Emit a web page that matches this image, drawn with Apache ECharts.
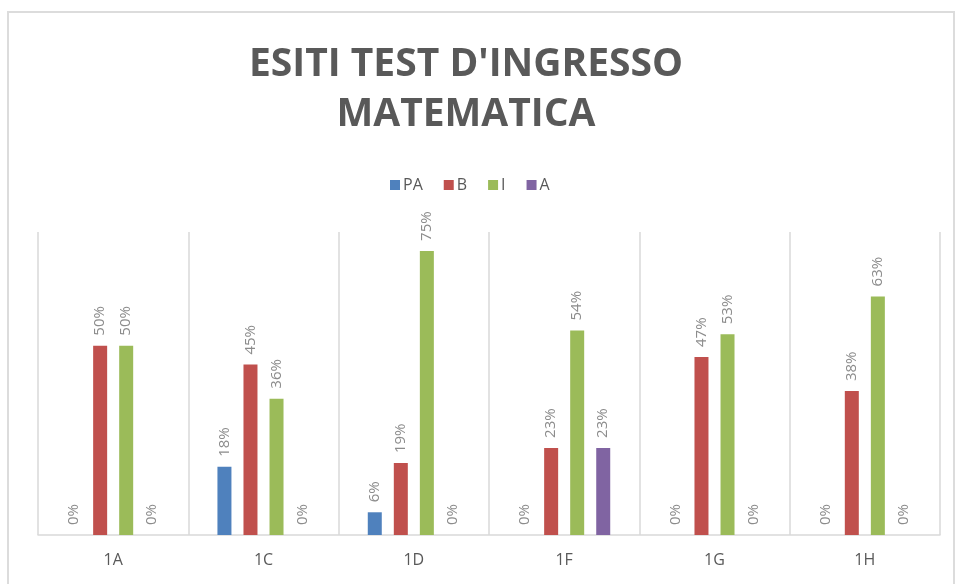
<!DOCTYPE html>
<html>
<head>
<meta charset="utf-8">
<script src="https://cdn.jsdelivr.net/npm/echarts@6/dist/echarts.min.js"></script>
<style>
  html, body { margin: 0; padding: 0; background: #fff; }
  #chart { width: 958px; height: 584px; }
</style>
</head>
<body>
<div id="chart"></div>
<script>
// classi
const categories = ["1A", "1C", "1D", "1F", "1G", "1H"];
// percentuali per esito
const valuesPA = [0, 18, 6, 0, 0, 0];
const valuesB = [50, 45, 19, 23, 47, 38];
const valuesI = [50, 36, 75, 54, 53, 63];
const valuesA = [0, 0, 0, 23, 0, 0];

const seriesNames = ["PA", "B", "I", "A"];
const seriesData = [valuesPA, valuesB, valuesI, valuesA];
const colors = ["#4f81bd", "#c0504d", "#9bbb59", "#8064a2"];

const chart = echarts.init(document.getElementById("chart"));

const series = seriesNames.map((name, i) => {
  return {
    name: name,
    type: "bar",
    data: seriesData[i],
    barWidth: 14,
    barGap: "86%",
    itemStyle: { color: colors[i] },
    label: {
      show: true,
      position: "top",
      rotate: 90,
      align: "left",
      verticalAlign: "middle",
      distance: 10,
      color: "#8c8c8c",
      fontFamily: "Open Sans",
      fontSize: 15,
      formatter: (p) => p.value + "%",
    },
  };
});

chart.setOption({
  animation: false,
  color: colors,
  title: {
    text: "ESITI TEST D'INGRESSO\nMATEMATICA",
    left: 461,
    textAlign: "center",
    top: 35,
    textStyle: {
      fontFamily: "Open Sans",
      fontWeight: "bold",
      fontSize: 39,
      lineHeight: 50,
      color: "#595959",
    },
  },
  legend: {
    data: seriesNames,
    top: 172,
    left: 385,
    itemWidth: 10,
    itemHeight: 10,
    itemGap: 21,
    icon: "rect",
    textStyle: {
      fontFamily: "Open Sans",
      fontSize: 16,
      color: "#595959",
      padding: [0, 0, 0, -2],
    },
  },
  grid: {
    left: 38,
    right: 18,
    top: 232,
    bottom: 49,
  },
  xAxis: {
    type: "category",
    data: categories,
    axisLine: { lineStyle: { color: "#d9d9d9", width: 1.5 } },
    axisTick: { show: false },
    splitLine: {
      show: true,
      lineStyle: { color: "#d9d9d9", width: 1.5 },
    },
    axisLabel: {
      margin: 17,
      fontFamily: "Open Sans",
      fontSize: 16,
      color: "#595959",
    },
  },
  yAxis: {
    type: "value",
    min: 0,
    max: 80,
    show: false,
  },
  graphic: [
    {
      type: "rect",
      shape: { x: 8, y: 12, width: 946, height: 590 },
      style: { fill: "none", stroke: "#dcdcdc", lineWidth: 2 },
      silent: true,
    },
  ],
  series: series,
});
</script>
</body>
</html>
